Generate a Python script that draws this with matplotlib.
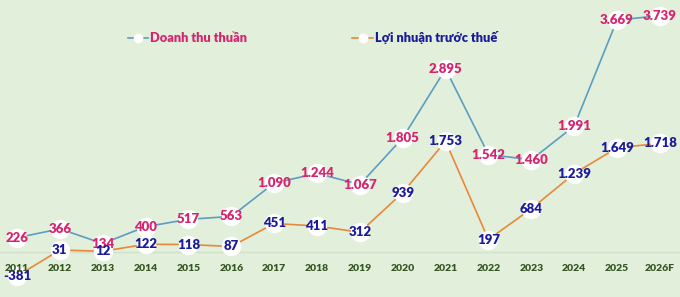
import numpy as np
import matplotlib.pyplot as plt
from matplotlib.lines import Line2D
import matplotlib.transforms as mtransforms

# -----------------------------
# Data
# -----------------------------
years = ["2011", "2012", "2013", "2014", "2015", "2016", "2017", "2018",
         "2019", "2020", "2021", "2022", "2023", "2024", "2025", "2026F"]
revenue = [226, 366, 134, 400, 517, 563, 1090, 1244, 1067, 1805, 2895,
           1542, 1460, 1991, 3669, 3739]
profit = [-381, 31, 12, 122, 118, 87, 451, 411, 312, 939, 1753,
          197, 684, 1239, 1649, 1718]

# -----------------------------
# Styles
# -----------------------------
bg = "#e2efda"
rev_line = "#5a9ec4"
pro_line = "#e8883a"
rev_text = "#d6246e"
pro_text = "#1a1a9a"
year_text = "#375623"

plt.rcParams['font.family'] = ['Lato', 'DejaVu Sans']


def fmt(v):
    return f"{v:,}".replace(",", ".")


fig = plt.figure(figsize=(6.8, 2.97), dpi=100, facecolor=bg)
ax = fig.add_axes([0, 0, 1, 1], facecolor=bg)

x = np.arange(len(years))

ax.axhline(0, color="#d2dfca", lw=1, zorder=1)

ax.plot(x, revenue, color=rev_line, lw=1.2, zorder=2,
        marker='o', markersize=14, markerfacecolor='white',
        markeredgewidth=0)
ax.plot(x, profit, color=pro_line, lw=1.2, zorder=2,
        marker='o', markersize=14, markerfacecolor='white',
        markeredgewidth=0)

for xi, v in zip(x, revenue):
    ax.text(xi, v, fmt(v), ha='center', va='center', fontsize=9.5,
            fontweight='heavy', color=rev_text, zorder=3)
for xi, v in zip(x, profit):
    ax.text(xi, v, fmt(v), ha='center', va='center', fontsize=9.5,
            fontweight='heavy', color=pro_text, zorder=3)

# year labels along the bottom
trans = mtransforms.blended_transform_factory(ax.transData, ax.transAxes)
for xi, yr in zip(x, years):
    ax.text(xi, 0.097, yr, transform=trans, ha='center', va='center',
            fontsize=7.5, fontweight='heavy', color=year_text)

ax.set_xlim(-0.397, 15.47)
ax.set_ylim(-712, 3987)
ax.axis('off')

# legend
handles = [
    Line2D([], [], color=rev_line, lw=1.2, marker='o', markersize=7,
           markerfacecolor='white', markeredgewidth=0),
    Line2D([], [], color=pro_line, lw=1.2, marker='o', markersize=7,
           markerfacecolor='white', markeredgewidth=0),
]
fig.legend(handles, ["Doanh thu thuần", "Lợi nhuận trước thuế"],
           loc='center left', bbox_to_anchor=(116 / 680, 1 - 38 / 297),
           ncol=2, frameon=False, handlelength=1.6, handletextpad=0.2,
           columnspacing=8.2, labelcolor=[rev_text, pro_text],
           prop={'weight': 'heavy', 'size': 9.2})

plt.savefig("out.png", dpi=100, facecolor=bg)
plt.close()
